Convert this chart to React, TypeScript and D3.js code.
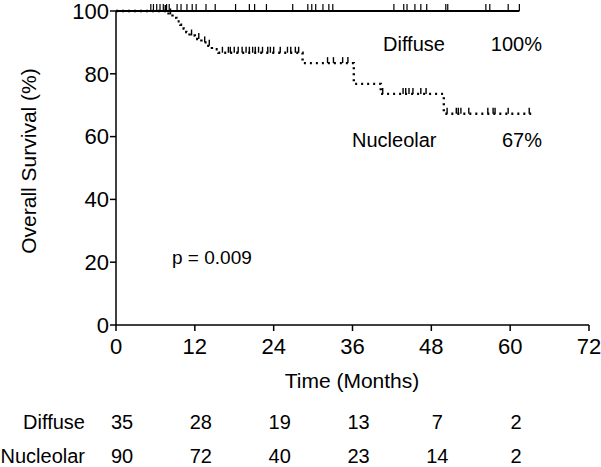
import React from "react";
import * as d3 from "d3";

// Diffuse group: no events, survival stays at 100%
const diffuseEnd = 61.4;
const diffuseCensored = [5.3, 5.7, 6.2, 6.7, 7.2, 7.7, 8.1, 9.3, 9.9, 10.8, 11.6, 12.2, 13.7, 15.1, 18.2, 20.3, 21.1, 22.9, 26.9, 29.2, 29.8, 30.4, 31.5, 32.4, 33.0, 42.3, 43.8, 44.3, 45.5, 46.4, 47.3, 50.2, 50.5, 56.3, 56.9, 59.7, 61.4];

// Nucleolar group: event times (months) and survival (%) after each event
const nucleolarEventTimes = [8.0, 8.6, 9.2, 9.8, 10.3, 10.7, 11.2, 12.0, 13.0, 13.8, 14.6, 15.6, 28.4, 36.2, 40.3, 49.9];
const nucleolarSurvival = [98.9, 97.8, 96.7, 95.6, 94.4, 93.3, 92.2, 91.1, 90.0, 88.9, 87.8, 86.7, 83.4, 76.8, 73.6, 67.3];
const nucleolarEnd = 63.2;
const nucleolarCensored = [7.5, 8.3, 11.5, 12.6, 13.5, 14.2, 16.2, 17.1, 17.4, 18.0, 18.6, 19.2, 19.8, 20.3, 20.8, 21.2, 21.7, 22.3, 23.1, 23.5, 24.0, 25.0, 26.1, 26.6, 27.3, 27.8, 32.2, 33.1, 34.5, 35.3, 40.6, 43.7, 44.1, 44.6, 45.2, 46.4, 47.2, 50.4, 51.8, 52.1, 52.5, 53.7, 56.6, 57.4, 57.7, 59.7, 62.9];

const xTicks = [0, 12, 24, 36, 48, 60, 72];
const yTicks = [0, 20, 40, 60, 80, 100];

const riskGroups = ["Diffuse", "Nucleolar"];
const riskDiffuse = [35, 28, 19, 13, 7, 2];
const riskNucleolar = [90, 72, 40, 23, 14, 2];
const riskTimes = [0, 12, 24, 36, 48, 60];

const FONT = "'Liberation Sans', Arial, Helvetica, sans-serif";

export default function App() {
  const x = d3.scaleLinear().domain([0, 72]).range([116, 589]);
  const y = d3.scaleLinear().domain([0, 100]).range([325, 11]);

  const survAt = (t: number) => {
    let s = 100;
    nucleolarEventTimes.forEach((et, i) => {
      if (et <= t) s = nucleolarSurvival[i];
    });
    return s;
  };

  const nucPts: [number, number][] = [[0, 100]];
  nucleolarEventTimes.forEach((t, i) => nucPts.push([t, nucleolarSurvival[i]]));
  nucPts.push([nucleolarEnd, nucleolarSurvival[nucleolarSurvival.length - 1]]);

  const line = d3
    .line<[number, number]>()
    .x((d) => x(d[0]))
    .y((d) => y(d[1]))
    .curve(d3.curveStepAfter);

  const nucPath = line(nucPts) || "";
  const difPath = line([[0, 100], [diffuseEnd, 100]]) || "";

  const riskRows = [riskDiffuse, riskNucleolar];
  const rowY = [422, 456];

  return (
    <svg
      width={601}
      height={467}
      style={{ position: "absolute", left: 0, top: 0, background: "#fff" }}
      fontFamily={FONT}
    >
      <rect x={0} y={0} width={601} height={467} fill="#fff" />
      {/* Y axis */}
      <line x1={x(0)} x2={x(0)} y1={y(0)} y2={y(100)} stroke="#000" strokeWidth={1.5} />
      {yTicks.map((t) => (
        <g key={"yt" + t}>
          <line x1={x(0) - 6} x2={x(0)} y1={y(t)} y2={y(t)} stroke="#000" strokeWidth={1.5} />
          <text x={x(0) - 7} y={y(t)} dy="0.35em" textAnchor="end" fontSize={22} fill="#000">
            {t}
          </text>
        </g>
      ))}
      {/* X axis */}
      <line x1={x(0)} x2={x(72)} y1={y(0)} y2={y(0)} stroke="#000" strokeWidth={1.5} />
      {xTicks.map((t) => (
        <g key={"xt" + t}>
          <line x1={x(t)} x2={x(t)} y1={y(0)} y2={y(0) + 6} stroke="#000" strokeWidth={1.5} />
          <text x={x(t)} y={y(0) + 21} dy="0.35em" textAnchor="middle" fontSize={22} fill="#000">
            {t}
          </text>
        </g>
      ))}
      <text x={352} y={381} dy="0.35em" textAnchor="middle" fontSize={21} fill="#000">
        Time (Months)
      </text>
      <text
        transform={`translate(29,161) rotate(-90)`}
        dy="0.35em"
        textAnchor="middle"
        fontSize={21}
        fill="#000"
      >
        Overall Survival (%)
      </text>

      {/* Diffuse curve */}
      <path d={difPath} fill="none" stroke="#000" strokeWidth={2.2} />
      {diffuseCensored.map((t, i) => (
        <line key={"dc" + i} x1={x(t)} x2={x(t)} y1={y(100)} y2={y(100) - 7} stroke="#000" strokeWidth={1.2} />
      ))}

      {/* Nucleolar curve */}
      <path d={nucPath} fill="none" stroke="#000" strokeWidth={2.4} strokeDasharray="2,4" />
      {nucleolarCensored.map((t, i) => (
        <line key={"nc" + i} x1={x(t)} x2={x(t)} y1={y(survAt(t))} y2={y(survAt(t)) - 6} stroke="#000" strokeWidth={1.4} />
      ))}

      {/* Labels */}
      <text x={383} y={44} dy="0.35em" fontSize={20} fill="#000">Diffuse</text>
      <text x={542} y={44} dy="0.35em" textAnchor="end" fontSize={20} fill="#000">100%</text>
      <text x={352} y={140} dy="0.35em" fontSize={20} fill="#000">Nucleolar</text>
      <text x={542} y={140} dy="0.35em" textAnchor="end" fontSize={20} fill="#000">67%</text>
      <text x={172} y={257} dy="0.35em" fontSize={19} fill="#000">p = 0.009</text>

      {/* Number at risk */}
      {riskGroups.map((g, gi) => (
        <g key={"rg" + g}>
          <text x={85} y={rowY[gi]} dy="0.35em" textAnchor="end" fontSize={20} fill="#000">
            {g}
          </text>
          {riskRows[gi].map((v, i) => (
            <text
              key={"rv" + i}
              x={x(riskTimes[i]) + 6}
              y={rowY[gi]}
              dy="0.35em"
              textAnchor="middle"
              fontSize={20}
              fill="#000"
            >
              {v}
            </text>
          ))}
        </g>
      ))}
    </svg>
  );
}
